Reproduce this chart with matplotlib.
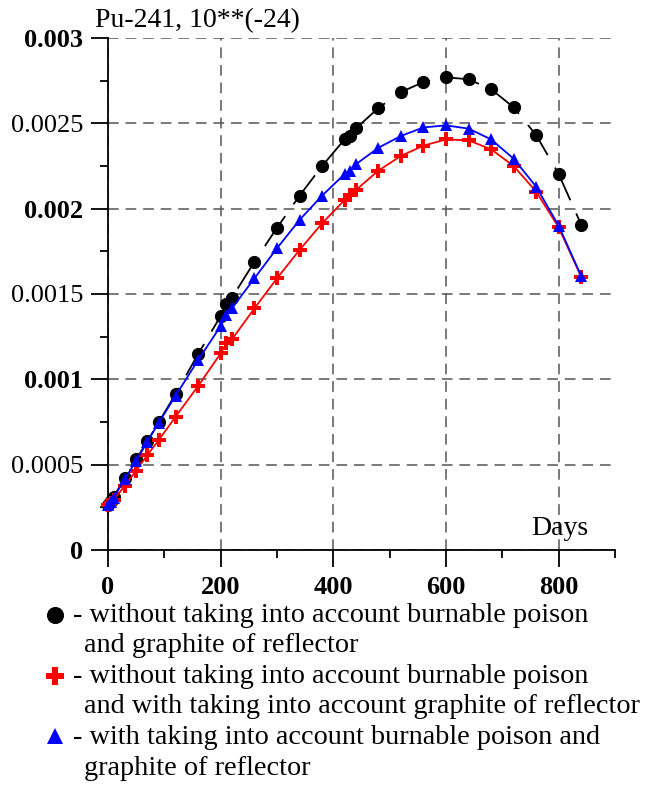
import matplotlib
matplotlib.use("Agg")
import matplotlib.pyplot as plt
from matplotlib.lines import Line2D
from matplotlib.ticker import MultipleLocator, FixedLocator

days = [0, 5, 10, 30, 50, 70, 90, 120, 160, 200, 210, 220, 260, 300, 340, 380,
        420, 430, 440, 480, 520, 560, 600, 640, 680, 720, 760, 800, 840]

no_poison_no_graphite = [0.000262, 0.000285, 0.000312, 0.000424, 0.000531, 0.000639,
                         0.000748, 0.000914, 0.001148, 0.001371, 0.001441, 0.001478,
                         0.001689, 0.001888, 0.002076, 0.002250, 0.002406, 0.002426,
                         0.002470, 0.002590, 0.002683, 0.002742, 0.002770, 0.002758,
                         0.002700, 0.002594, 0.002431, 0.002203, 0.001906]

no_poison_with_graphite = [0.000262, 0.000277, 0.000293, 0.000377, 0.000465, 0.000557,
                           0.000644, 0.000781, 0.000961, 0.001152, 0.001211, 0.001234,
                           0.001416, 0.001592, 0.001758, 0.001914, 0.002051, 0.002080,
                           0.002109, 0.002223, 0.002309, 0.002369, 0.002406, 0.002400,
                           0.002348, 0.002250, 0.002100, 0.001890, 0.001600]

poison_and_graphite = [0.000262, 0.000283, 0.000307, 0.000416, 0.000523, 0.000635,
                       0.000746, 0.000904, 0.001113, 0.001312, 0.001377, 0.001416,
                       0.001592, 0.001768, 0.001934, 0.002076, 0.002203, 0.002223,
                       0.002260, 0.002357, 0.002426, 0.002476, 0.002488, 0.002469,
                       0.002406, 0.002293, 0.002129, 0.001900, 0.001605]

y_ticks = [0, 0.0005, 0.001, 0.0015, 0.002, 0.0025, 0.003]
y_tick_labels = ["0", "0.0005", "0.001", "0.0015", "0.002", "0.0025", "0.003"]
x_ticks = [0, 200, 400, 600, 800]
x_tick_labels = ["0", "200", "400", "600", "800"]

legend_lines = [
    "- without taking into account burnable poison",
    "and graphite of reflector",
    "- without taking into account burnable poison",
    "and with taking into account graphite of reflector",
    "- with taking into account burnable poison and",
    "graphite of reflector",
]

plt.rcParams['font.family'] = ['Liberation Serif', 'DejaVu Serif']

W, H = 651, 785
fig = plt.figure(figsize=(W / 100, H / 100), dpi=100)
ax = fig.add_axes([108 / W, 1 - 550 / H, (615 - 108) / W, (550 - 38) / H])

ax.set_xlim(0, 900)
ax.set_ylim(0, 0.003)

for s in ['top', 'right']:
    ax.spines[s].set_visible(False)
for s in ['left', 'bottom']:
    ax.spines[s].set_linewidth(1.3)
    ax.spines[s].set_color('black')

ax.set_xticks(x_ticks)
ax.set_xticklabels(x_tick_labels)
ax.set_yticks(y_ticks)
ax.set_yticklabels(y_tick_labels)
ax.xaxis.set_minor_locator(FixedLocator([100, 300, 500, 700, 900]))
ax.yaxis.set_minor_locator(MultipleLocator(0.00025))
ax.tick_params(axis='both', which='major', direction='out', length=12, width=1.3,
               labelsize=19, color='black')
ax.tick_params(axis='both', which='minor', direction='out', length=6, width=1.3,
               color='black')
ax.tick_params(axis='x', which='major', pad=7)
ax.tick_params(axis='y', which='major', pad=6)
for lab in ax.get_yticklabels():
    if lab.get_text() in ("0", "0.001", "0.002", "0.003"):
        lab.set_fontweight('bold')
for lab in ax.get_xticklabels():
    lab.set_fontweight('bold')

ax.grid(True, which='major', color='#555555', linestyle=(0, (7, 4.5)), linewidth=1.1)
ax.set_axisbelow(True)

ax.plot(days, no_poison_no_graphite, color='black', linestyle=(0, (20, 8)), linewidth=1.3,
        marker='o', markersize=8.5, markerfacecolor='black', markeredgecolor='black',
        clip_on=False, zorder=3)
ax.plot(days, no_poison_with_graphite, color='red', linestyle='-', linewidth=1.3,
        marker='P', markersize=10, markerfacecolor='red', markeredgecolor='red',
        markeredgewidth=0, clip_on=False, zorder=4)
ax.plot(days, poison_and_graphite, color='blue', linestyle='-', linewidth=1.3,
        marker='^', markersize=9, markerfacecolor='blue', markeredgecolor='blue',
        markeredgewidth=0, clip_on=False, zorder=5)

ax.text(0.892, 0.029, "Days", transform=ax.transAxes, ha='center', va='baseline',
        fontsize=20)

fig.text(95 / W, 1 - 27 / H, "Pu-241, 10**(-24)", ha='left', va='baseline', fontsize=20)

# legend
baselines = [622, 652, 683, 713, 744, 775]
xstarts = [73, 84, 73, 84, 73, 84]
for t, b, x0 in zip(legend_lines, baselines, xstarts):
    fig.text(x0 / W, 1 - b / H, t, ha='left', va='baseline', fontsize=20.3)

handles = [('o', 'black', 615, 12.3), ('P', 'red', 676, 13), ('^', 'blue', 736, 11)]
for m, c, yy, ms in handles:
    fig.add_artist(Line2D([55 / W], [1 - yy / H], transform=fig.transFigure, marker=m,
                          markersize=ms, color=c, markeredgewidth=0, linestyle='none'))

fig.savefig("out.png", dpi=100)
